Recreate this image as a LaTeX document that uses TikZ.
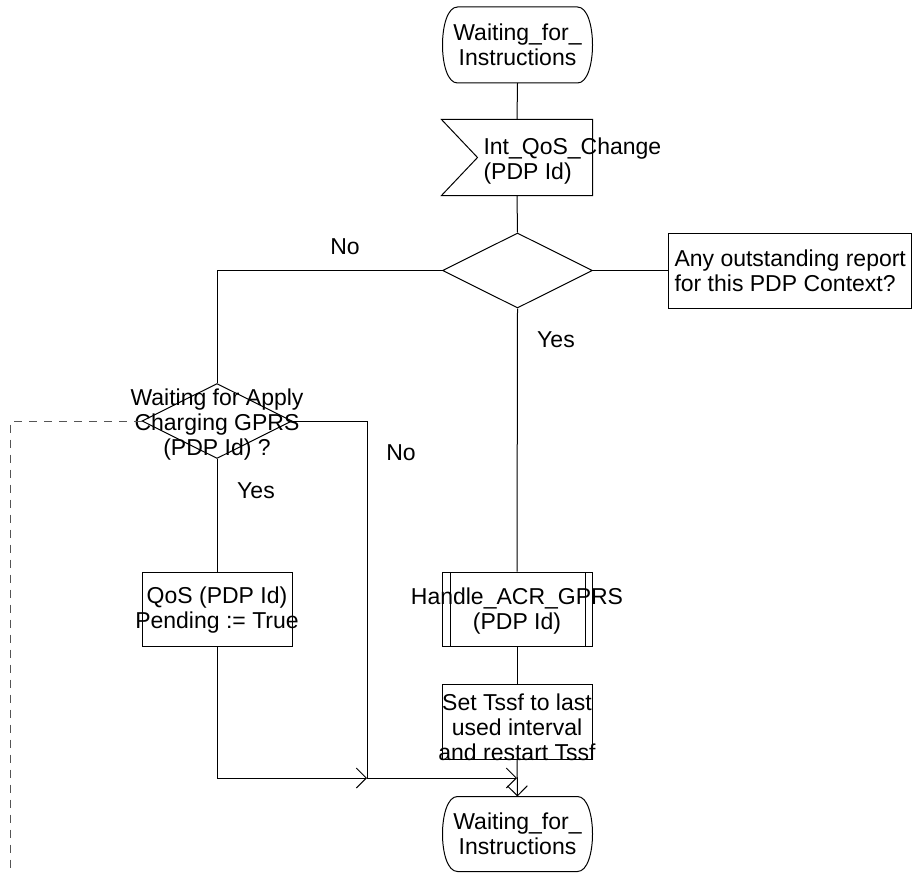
\documentclass[tikz,border=0pt]{standalone}
\usepackage{fontspec}
\setmainfont{Liberation Sans}
\usetikzlibrary{arrows.meta,positioning,shapes.geometric}
\definecolor{flowline}{HTML}{000000}
\definecolor{dashline}{HTML}{555555}

\begin{document}
\begin{tikzpicture}[x=1pt,y=-1pt,line width=1pt,
  every node/.style={font=\fontsize{23}{25}\selectfont,inner sep=0pt},
  sdlstate/.style={minimum width=149,minimum height=75,align=center},
  sigin/.style={minimum width=150,minimum height=75},
  decision/.style={draw=flowline,diamond,minimum width=150,minimum height=75},
  taskbox/.style={draw=flowline,minimum width=150,minimum height=75},
  procbox/.style={taskbox,path picture={
      \draw[flowline] ([xshift=8pt]path picture bounding box.north west) -- ([xshift=8pt]path picture bounding box.south west);
      \draw[flowline] ([xshift=-7pt]path picture bounding box.north east) -- ([xshift=-7pt]path picture bounding box.south east);}},
  comment/.style={draw=flowline,align=left,inner xsep=6pt,minimum height=75},
  txt/.style={align=center},
  flow/.style={-{Straight Barb[length=10pt,width=20pt]}},
  loopback/.style={dashline,dash pattern=on 8pt off 7pt}]
  \useasboundingbox (0,0) rectangle (912,872);

  % States
  \node[sdlstate] (wait1) at (517.5,45) {Waiting\_for\_\\Instructions};
  \node[sdlstate,minimum height=74] (wait2) at (517.5,834) {Waiting\_for\_\\Instructions};
  \foreach \st in {wait1,wait2}
    \draw[flowline] ([xshift=15pt]\st.north west) -- ([xshift=-15pt]\st.north east)
      .. controls ([xshift=5pt]\st.north east) and ([xshift=5pt]\st.south east) .. ([xshift=-15pt]\st.south east)
      -- ([xshift=15pt]\st.south west)
      .. controls ([xshift=-5pt]\st.south west) and ([xshift=-5pt]\st.north west) .. cycle;

  % Input signal
  \node[sigin] (sig) at (517,157.5) {};
  \draw[flowline] (sig.north west) -- (sig.north east) -- (sig.south east) -- (sig.south west) -- ([xshift=36pt]sig.west) -- cycle;
  \node[anchor=west,align=left] (sigtxt) at (483,161) {Int\_QoS\_Change\\(PDP Id)};

  % Decisions
  \node[decision] (dec1) at (517.5,270.5) {};
  \node[comment,anchor=west] (cmt) at (668,270.5) {Any outstanding report\\for this PDP Context?};
  \node[decision] (dec2) at (217,421) {};
  \node[txt] (dec2txt) at (217,425) {Waiting for Apply\\Charging GPRS\\(PDP Id) ?};

  % Tasks and procedure
  \node[taskbox,minimum height=74] (qos) at (217,609) {};
  \node[txt] (qostxt) at (217,610) {QoS (PDP Id)\\Pending := True};
  \node[procbox,minimum height=74] (acr) at (517,609) {};
  \node[txt] (acrtxt) at (517,611) {Handle\_ACR\_GPRS\\(PDP Id)};
  \node[taskbox] (sett) at (517,721.5) {};
  \node[txt] (setttxt) at (517,727) {Set Tssf to last\\used interval\\and restart Tssf};

  % Answers
  \node (no1) at (345,247) {No};
  \node (yes1) at (556,340) {Yes};
  \node (no2) at (401,453) {No};
  \node (yes2) at (256,491) {Yes};

  % Merge points
  \coordinate (mrg1) at (367,778);
  \coordinate (mrg2) at (517,778);
  \coordinate (dashend) at (10,872);

  % Flow lines
  \draw[flowline] (wait1.south) -- (sig.north);
  \draw[flowline] (sig.south) -- (dec1.north);
  \draw[flowline] (dec1.east) -- (cmt.west);
  \draw[flowline] (dec1.west) -| (dec2.north);
  \draw[flowline] (dec1.south) -- (acr.north);
  \draw[flowline] (dec2.south) -- (qos.north);
  \draw[flowline] (dec2.east) -| (mrg1);
  \draw[loopback] (dec2.west) -| (dashend);
  \draw[flowline,flow] (qos.south) |- (mrg1);
  \draw[flowline,flow] (mrg1) -- (mrg2);
  \draw[flowline] (acr.south) -- (sett.north);
  \draw[flowline,flow] (sett.south) -- (wait2.north);
\end{tikzpicture}
\end{document}
